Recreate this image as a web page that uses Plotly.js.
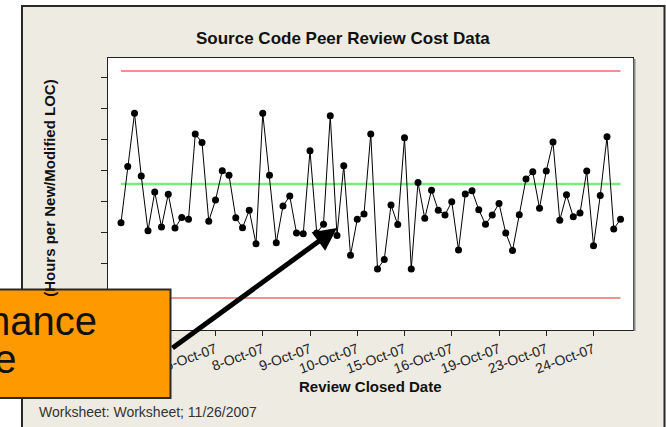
<!DOCTYPE html>
<html><head><meta charset="utf-8">
<script src="https://cdn.plot.ly/plotly-3.0.1.min.js"></script>
<style>html,body{margin:0;padding:0;background:#fff;}#chart{width:666px;height:427px;}</style>
</head><body><div id="chart"></div>
<script>
// Individual values: review cost (hours per new/modified LOC), in review order
const costPerLOC = [0.330,0.511,0.683,0.481,0.304,0.429,0.316,0.422,0.313,0.347,
  0.341,0.616,0.589,0.335,0.403,0.498,0.483,0.346,0.314,0.370,
  0.262,0.683,0.483,0.265,0.384,0.416,0.297,0.294,0.562,0.297,
  0.325,0.675,0.289,0.514,0.225,0.341,0.358,0.616,0.181,0.211,
  0.387,0.324,0.604,0.181,0.460,0.344,0.435,0.370,0.355,0.398,
  0.242,0.423,0.433,0.372,0.325,0.355,0.392,0.297,0.240,0.356,
  0.471,0.494,0.377,0.497,0.590,0.338,0.420,0.349,0.361,0.497,
  0.256,0.418,0.607,0.310,0.341];
// Control limits
const UCL = 0.8194, CL = 0.4548, LCL = 0.0871;
const limitSpan = [0, 74];
// Date stamp ticks (observation index -> review closed date)
const tickIdx = [0,7,14,21,28,35,42,49,56,63,70];
const tickLabels = ["1-Oct-07","3-Oct-07","5-Oct-07","8-Oct-07","9-Oct-07","10-Oct-07",
  "15-Oct-07","16-Oct-07","19-Oct-07","23-Oct-07","24-Oct-07"];
const yTicks = [0,0.1,0.2,0.3,0.4,0.5,0.6,0.7,0.8];

const W = 666, H = 427, L = 108, R = 633, T = 58, B = 330;
const px = v => (v - L) / (R - L);
const py = v => (B - v) / (B - T);
const FONT = "Liberation Sans, Arial, sans-serif";

const traces = [
  {x: limitSpan, y: [UCL, UCL], mode: 'lines', line: {color: '#f36b6b', width: 1.7}, hoverinfo: 'skip'},
  {x: limitSpan, y: [LCL, LCL], mode: 'lines', line: {color: '#f36b6b', width: 1.7}, hoverinfo: 'skip'},
  {x: limitSpan, y: [CL, CL], mode: 'lines', line: {color: '#78ee78', width: 2.4}, hoverinfo: 'skip'},
  {y: costPerLOC, mode: 'lines+markers', line: {color: '#000', width: 1},
   marker: {color: '#000', size: 7}}
];

const layout = {
  width: W, height: H,
  margin: {l: L, r: W - R, t: T, b: H - B, pad: 0},
  paper_bgcolor: '#eeebe2', plot_bgcolor: '#fff',
  showlegend: false,
  font: {family: FONT, color: '#222'},
  xaxis: {range: [-1.926, 75.85], tickvals: tickIdx, ticktext: tickLabels, tickangle: -20,
    ticks: 'outside', ticklen: 5, tickcolor: '#222', tickfont: {size: 14, color: '#222'},
    showgrid: false, zeroline: false, showline: true, linecolor: '#222', linewidth: 1, mirror: true},
  yaxis: {range: [-0.0161, 0.8613], tickvals: yTicks, showticklabels: false,
    ticks: 'outside', ticklen: 6, tickcolor: '#222',
    showgrid: false, zeroline: false, showline: true, linecolor: '#222', linewidth: 1, mirror: true},
  shapes: [
    {type: 'rect', xref: 'paper', yref: 'paper', x0: px(-10), x1: px(21), y0: py(440), y1: py(-10),
     fillcolor: '#fff', line: {width: 0}, layer: 'below'},
    {type: 'rect', xref: 'paper', yref: 'paper', x0: px(-10), x1: px(680), y0: py(5), y1: py(-10),
     fillcolor: '#fff', line: {width: 0}, layer: 'below'},
    {type: 'rect', xref: 'paper', yref: 'paper', x0: px(22), x1: px(664.5), y0: py(445), y1: py(6),
     fillcolor: 'rgba(0,0,0,0)', line: {color: '#2a2a2a', width: 2}, layer: 'below'},
    {type: 'line', xref: 'paper', yref: 'paper', x0: px(634.5), x1: px(634.5), y0: py(331), y1: py(59),
     line: {color: '#8a8a8a', width: 2}, layer: 'above'},
    {type: 'rect', xref: 'paper', yref: 'paper', x0: px(-10), x1: px(170.5), y0: py(398), y1: py(289.5),
     fillcolor: '#ff9900', line: {color: '#2a2a2a', width: 2}, layer: 'above'}
  ],
  annotations: [
    {text: '<b>Source Code Peer Review Cost Data</b>', xref: 'paper', yref: 'paper',
     x: px(343), y: py(38), xanchor: 'center', yanchor: 'middle', showarrow: false,
     font: {size: 17, color: '#111', family: FONT}},
    {text: '<b>Review Closed Date</b>', xref: 'paper', yref: 'paper',
     x: px(370), y: py(386), xanchor: 'center', yanchor: 'middle', showarrow: false,
     font: {size: 15, color: '#111', family: FONT}},
    {text: '<b>(Hours per New/Modified LOC)</b>', xref: 'paper', yref: 'paper', textangle: -90,
     x: px(48.8), y: py(77), xanchor: 'center', yanchor: 'top', showarrow: false,
     font: {size: 15, color: '#111', family: FONT}},
    {text: 'Worksheet: Worksheet; 11/26/2007', xref: 'paper', yref: 'paper',
     x: px(37), y: py(411.5), xanchor: 'left', yanchor: 'middle', showarrow: false,
     font: {size: 14, color: '#333', family: FONT}},
    {text: '', xref: 'paper', yref: 'paper', x: px(337), y: py(228), ax: -166, ay: 121,
     showarrow: true, arrowhead: 2, arrowwidth: 5, arrowsize: 0.92, arrowcolor: '#000', standoff: 0},
    {text: 'Performance', xref: 'paper', yref: 'paper', x: px(99), y: py(321),
     xanchor: 'right', yanchor: 'middle', showarrow: false,
     font: {size: 40, color: '#111', family: "Liberation Sans Narrow, Arial Narrow, Liberation Sans, sans-serif"}},
    {text: 'Baseline', xref: 'paper', yref: 'paper', x: px(18), y: py(359),
     xanchor: 'right', yanchor: 'middle', showarrow: false,
     font: {size: 40, color: '#111', family: "Liberation Sans Narrow, Arial Narrow, Liberation Sans, sans-serif"}}
  ]
};

Plotly.newPlot('chart', traces, layout, {displayModeBar: false, staticPlot: true});
</script></body></html>
